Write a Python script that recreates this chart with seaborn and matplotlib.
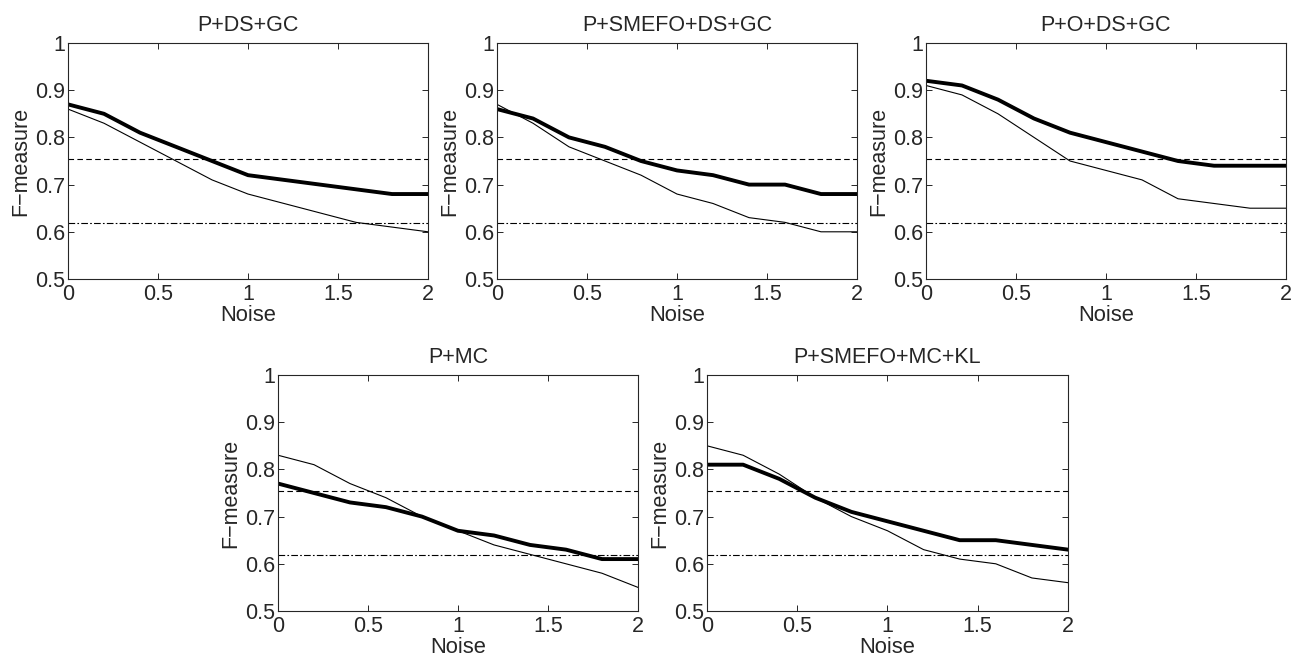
import matplotlib
matplotlib.use("Agg")
import matplotlib.pyplot as plt
import seaborn as sns
import pandas as pd
import numpy as np

# Data
noise = [0.0, 0.2, 0.4, 0.6, 0.8, 1.0, 1.2, 1.4, 1.6, 1.8, 2.0]

titles = ["P+DS+GC", "P+SMEFO+DS+GC", "P+O+DS+GC", "P+MC", "P+SMEFO+MC+KL"]

thick_vals = [
    [0.87, 0.85, 0.81, 0.78, 0.75, 0.72, 0.71, 0.70, 0.69, 0.68, 0.68],
    [0.86, 0.84, 0.80, 0.78, 0.75, 0.73, 0.72, 0.70, 0.70, 0.68, 0.68],
    [0.92, 0.91, 0.88, 0.84, 0.81, 0.79, 0.77, 0.75, 0.74, 0.74, 0.74],
    [0.77, 0.75, 0.73, 0.72, 0.70, 0.67, 0.66, 0.64, 0.63, 0.61, 0.61],
    [0.81, 0.81, 0.78, 0.74, 0.71, 0.69, 0.67, 0.65, 0.65, 0.64, 0.63],
]
thin_vals = [
    [0.86, 0.83, 0.79, 0.75, 0.71, 0.68, 0.66, 0.64, 0.62, 0.61, 0.60],
    [0.87, 0.83, 0.78, 0.75, 0.72, 0.68, 0.66, 0.63, 0.62, 0.60, 0.60],
    [0.91, 0.89, 0.85, 0.80, 0.75, 0.73, 0.71, 0.67, 0.66, 0.65, 0.65],
    [0.83, 0.81, 0.77, 0.74, 0.70, 0.67, 0.64, 0.62, 0.60, 0.58, 0.55],
    [0.85, 0.83, 0.79, 0.74, 0.70, 0.67, 0.63, 0.61, 0.60, 0.57, 0.56],
]

dashed_level = 0.755
dashdot_level = 0.618

sns.set_style("ticks")
plt.rcParams['font.family'] = ['Liberation Sans', 'DejaVu Sans']
plt.rcParams['xtick.direction'] = 'in'
plt.rcParams['ytick.direction'] = 'in'

fig = plt.figure(figsize=(12.97, 6.59), dpi=100)

W, H = 1297, 659
# axes boxes in pixels: left, top, right, bottom
boxes = [
    (68, 43, 428, 279),
    (497, 43, 857, 279),
    (926, 43, 1286, 279),
    (278, 375, 638, 611),
    (707, 375, 1068, 611),
]

for i, (l, t, r, b) in enumerate(boxes):
    ax = fig.add_axes([l / W, 1 - b / H, (r - l) / W, (b - t) / H])
    df = pd.DataFrame({"Noise": noise, "thick": thick_vals[i], "thin": thin_vals[i]})
    ax.axhline(dashed_level, color="black", lw=0.8, ls=(0, (5, 3)))
    ax.axhline(dashdot_level, color="black", lw=0.8, ls=(0, (6, 2, 1.5, 2)))
    sns.lineplot(data=df, x="Noise", y="thin", ax=ax, color="black", lw=0.8)
    sns.lineplot(data=df, x="Noise", y="thick", ax=ax, color="black", lw=2.8)
    ax.set_xlim(0, 2)
    ax.set_ylim(0.5, 1)
    ax.set_xticks([0, 0.5, 1, 1.5, 2])
    ax.set_xticklabels(["0", "0.5", "1", "1.5", "2"])
    ax.set_yticks([0.5, 0.6, 0.7, 0.8, 0.9, 1.0])
    ax.set_yticklabels(["0.5", "0.6", "0.7", "0.8", "0.9", "1"])
    ax.tick_params(axis="both", labelsize=15.5, length=4, width=0.7,
                   top=True, right=True)
    ax.tick_params(axis="x", pad=3.6)
    ax.tick_params(axis="y", pad=2)
    for s in ax.spines.values():
        s.set_visible(True)
        s.set_linewidth(0.8)
    ax.set_xlabel("Noise", fontsize=15.8, labelpad=0)
    ax.set_ylabel("F\u2212measure", fontsize=15.5, labelpad=2.5)
    ax.set_title(titles[i], fontsize=15.5, pad=8.3)

fig.savefig("out.png", dpi=100)
